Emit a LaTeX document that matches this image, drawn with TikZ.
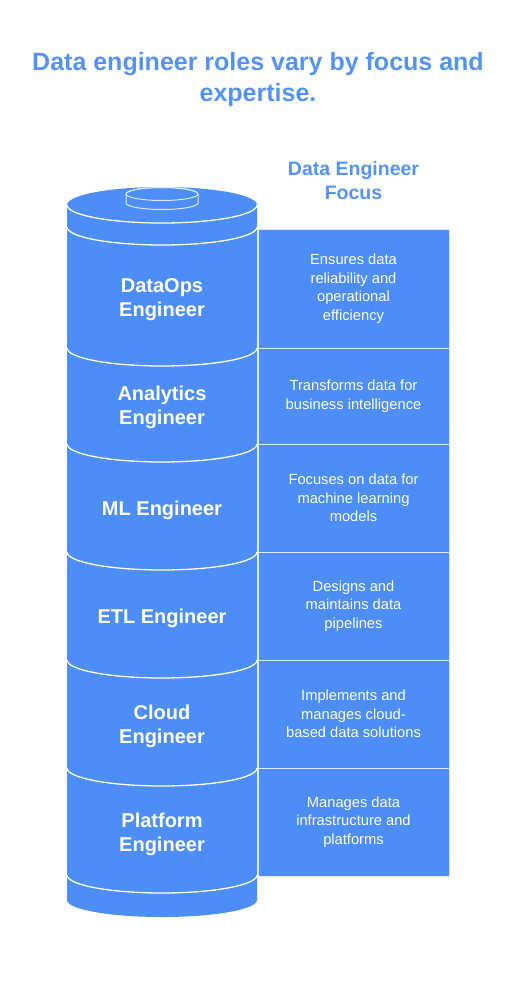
\documentclass[tikz,border=0pt]{standalone}
\usepackage{fontspec}
\setmainfont{Liberation Sans}
\usepackage{xcolor}
\usetikzlibrary{positioning}
\definecolor{roleblue}{HTML}{4C8DF6}
\definecolor{titleblue}{HTML}{5592F5}
\definecolor{edgewhite}{HTML}{DCE8FC}

\begin{document}
\begin{tikzpicture}[x=1pt, y=-1pt,
      title/.style={
        text=titleblue, align=center,
        font=\fontsize{25}{31}\selectfont\bfseries},
      head/.style={
        text=titleblue, align=center,
        font=\fontsize{19.5}{24}\selectfont\bfseries},
      role/.style={
        text=white, align=center,
        font=\fontsize{20}{24}\selectfont\bfseries},
      focus/.style={
        rectangle, draw=edgewhite, line width=1pt, fill=roleblue,
        minimum width=191pt, inner sep=0pt, outer sep=0pt, align=center,
        text=white, font=\fontsize{14.7}{18.5}\selectfont},
      band/.style={draw=white, line width=1.3pt},
      node distance=0pt
    ]
    \useasboundingbox (0,0) rectangle (516,991);

    % --- Titles ---
    \node[title] (title) at (258,80) {Data engineer roles vary by focus and\\expertise.};
    \node[head] (focushead) at (353.5,181) {Data Engineer\\Focus};

    % --- Cylinder body ---
    \fill[roleblue] (67,205) -- (67,900)
      arc[start angle=180, end angle=360, x radius=95pt, y radius=17pt]
      -- (257,205)
      arc[start angle=0, end angle=180, x radius=95pt, y radius=18pt] -- cycle;

    % --- Bands ---
    \draw[band] (67,205) arc[start angle=180, end angle=360, x radius=95pt, y radius=18pt];
    \draw[band] (67,227) arc[start angle=180, end angle=360, x radius=95pt, y radius=18pt];
    \draw[band] (67,348) arc[start angle=180, end angle=360, x radius=95pt, y radius=18pt];
    \draw[band] (67,444) arc[start angle=180, end angle=360, x radius=95pt, y radius=18pt];
    \draw[band] (67,552) arc[start angle=180, end angle=360, x radius=95pt, y radius=18pt];
    \draw[band] (67,660) arc[start angle=180, end angle=360, x radius=95pt, y radius=18pt];
    \draw[band] (67,768) arc[start angle=180, end angle=360, x radius=95pt, y radius=18pt];
    \draw[band] (67,875) arc[start angle=180, end angle=360, x radius=95pt, y radius=18pt];

    % --- Cap on top ---
    \filldraw[fill=roleblue, draw=edgewhite, line width=1pt] (126,194) -- (126,203)
      arc[start angle=180, end angle=360, x radius=36pt, y radius=6.5pt]
      -- (198,194)
      arc[start angle=0, end angle=180, x radius=36pt, y radius=6.5pt] -- cycle;
    \draw[edgewhite, line width=1pt] (162,194) ellipse[x radius=36pt, y radius=6.5pt];

    % --- Roles ---
    \node[role] (dataops)   at (162,300) {DataOps\\Engineer};
    \node[role] (analytics) at (162,407) {Analytics\\Engineer};
    \node[role] (ml)        at (162,510) {ML Engineer};
    \node[role] (etl)       at (162,618) {ETL Engineer};
    \node[role] (cloud)     at (162,726) {Cloud\\Engineer};
    \node[role] (platform)  at (162,834) {Platform\\Engineer};

    % --- Focus boxes ---
    \node[focus, minimum height=119pt, anchor=north] (opsfocus) at (353.5,229)
      {Ensures data\\reliability and\\operational\\efficiency};
    \node[focus, minimum height=96pt, below=of opsfocus] (anafocus)
      {Transforms data for\\business intelligence};
    \node[focus, minimum height=108pt, below=of anafocus] (mlfocus)
      {Focuses on data for\\machine learning\\models};
    \node[focus, minimum height=108pt, below=of mlfocus] (etlfocus)
      {Designs and\\maintains data\\pipelines};
    \node[focus, minimum height=108pt, below=of etlfocus] (cloudfocus)
      {Implements and\\manages cloud-\\based data solutions};
    \node[focus, minimum height=108pt, below=of cloudfocus] (platfocus)
      {Manages data\\infrastructure and\\platforms};
  \end{tikzpicture}
\end{document}
